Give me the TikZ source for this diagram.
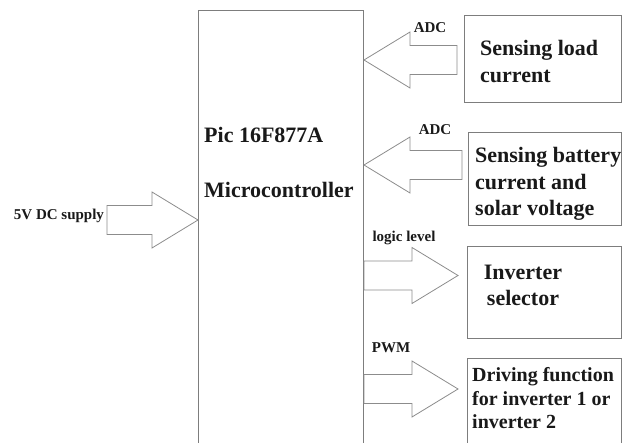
\documentclass[tikz,border=0pt]{standalone}
\usepackage{fontspec}
\setmainfont{Liberation Serif}
\usepackage{xcolor}
\usetikzlibrary{positioning,calc}

\definecolor{linegray}{RGB}{125,125,125}
\definecolor{arrowgray}{RGB}{140,140,140}
\definecolor{textdark}{RGB}{25,25,25}

% hollow block arrow from #1 (tail) to #2 (tip), #3 = name of the head base
\newcommand{\blockarrow}[3]{%
  \coordinate (#3) at ($(#2)!46pt!(#1)$);
  \draw[blockarrow] ([yshift=14.5pt]#1) -- ([yshift=14.5pt]#3) -- ([yshift=28pt]#3)
    -- (#2) -- ([yshift=-28pt]#3) -- ([yshift=-14.5pt]#3) -- ([yshift=-14.5pt]#1) -- cycle;
}

\begin{document}
\begin{tikzpicture}[
    x=1pt, y=-1pt,
    box/.style={rectangle, draw=linegray, line width=1pt, anchor=north west, inner sep=0pt},
    boxtext/.style={align=left, inner sep=0pt, text=textdark, font=\bfseries\fontsize{22}{26.5}\selectfont},
    smalltext/.style={boxtext, font=\bfseries\fontsize{20}{23.5}\selectfont},
    tag/.style={inner sep=0pt, text=textdark, font=\bfseries\fontsize{15}{17}\selectfont},
    blockarrow/.style={draw=arrowgray, line width=0.8pt, fill=white, line join=miter}
]
\useasboundingbox (0,0) rectangle (622,443);

% Microcontroller
\node[box, minimum width=165pt, minimum height=460pt] (mcu) at (198,10) {};
\node[boxtext, anchor=north west] (mcutxt) at (204,127) {Pic 16F877A\\[28.5pt]Microcontroller};

% Sensing and output blocks
\node[box, minimum width=157pt, minimum height=87pt] (load) at (464,15) {};
\node[boxtext, anchor=west] (loadtxt) at (480,61.5) {Sensing load\\current};

\node[box, minimum width=153pt, minimum height=93pt] (battery) at (468,132) {};
\node[boxtext, anchor=west] (batterytxt) at (475,184) {Sensing battery\\current and\\solar voltage};

\node[box, minimum width=154pt, minimum height=92pt] (selector) at (467,246) {};
\node[boxtext, align=center] (selectortxt) at (523,285.5) {Inverter\\selector};

\node[box, minimum width=154pt, minimum height=100pt] (driving) at (467,358) {};
\node[smalltext, anchor=west] (drivingtxt) at (472,398.5) {Driving function\\for inverter 1 or\\inverter 2};

% Arrows
\coordinate (adc1tail) at (457,60);
\coordinate (adc1tip) at (mcu.east |- adc1tail);
\blockarrow{adc1tail}{adc1tip}{adc1head}

\coordinate (adc2tail) at (462,165);
\coordinate (adc2tip) at (mcu.east |- adc2tail);
\blockarrow{adc2tail}{adc2tip}{adc2head}

\coordinate (logictail) at (mcu.east |- 0,275.5);
\coordinate (logictip) at (458,275.5);
\blockarrow{logictail}{logictip}{logichead}

\coordinate (pwmtail) at (mcu.east |- 0,389);
\coordinate (pwmtip) at (458,389);
\blockarrow{pwmtail}{pwmtip}{pwmhead}

\coordinate (supplytail) at (107,220);
\coordinate (supplytip) at (mcu.west |- supplytail);
\blockarrow{supplytail}{supplytip}{supplyhead}

% Labels
\node[tag] (adclbl1) at (430,28) {ADC};
\node[tag] (adclbl2) at (435,130) {ADC};
\node[tag] (logiclbl) at (404,238) {logic level};
\node[tag] (pwmlbl) at (391,348) {PWM};
\node[tag] (supplylbl) at (59,216) {5V DC supply};

\end{tikzpicture}
\end{document}
